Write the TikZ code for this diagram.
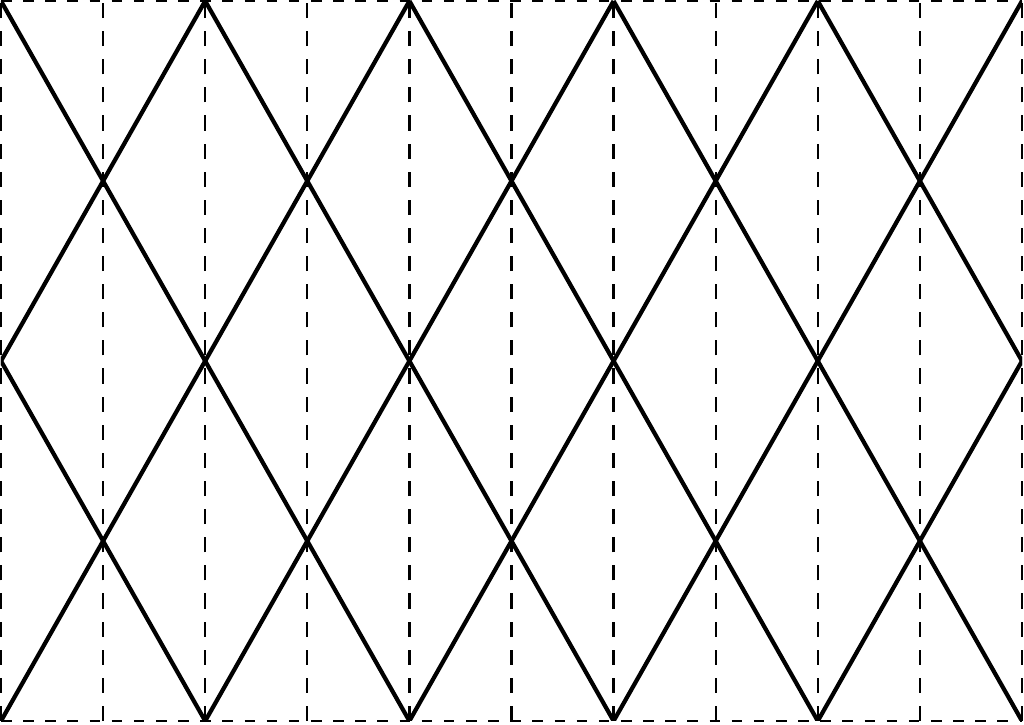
\documentclass[tikz,border=0pt]{standalone}
\begin{document}
\begin{tikzpicture}[
    guide/.style={dashed, dash pattern=on 4.3pt off 3.7pt, line width=0.65pt},
    rim/.style={dashed, dash pattern=on 3pt off 3.3pt, line width=0.65pt},
    diagline/.style={line width=1.2pt}
  ]
  \def\dx{1.021}
  \def\dy{1.80}
  % page
  \useasboundingbox (0,0) rectangle (10.24,7.25);
  \begin{scope}[shift={(0.01,0.04)}]
    % dashed guides
    \foreach \i in {0,...,10}
      \draw[guide] (\i*\dx,0) -- (\i*\dx,4*\dy);
    \draw[rim] (0,0) -- (10*\dx,0);
    \draw[rim] (0,4*\dy) -- (10*\dx,4*\dy);
    % diamonds
    \clip (0,0) rectangle (10*\dx,4*\dy);
    \foreach \k in {-1,...,4}
      \draw[diagline] ({2*(\k)*\dx},4*\dy) -- ({(2*(\k)+4)*\dx},0);
    \foreach \k in {1,...,6}
      \draw[diagline] ({2*(\k)*\dx},4*\dy) -- ({(2*(\k)-4)*\dx},0);
  \end{scope}
\end{tikzpicture}
\end{document}
